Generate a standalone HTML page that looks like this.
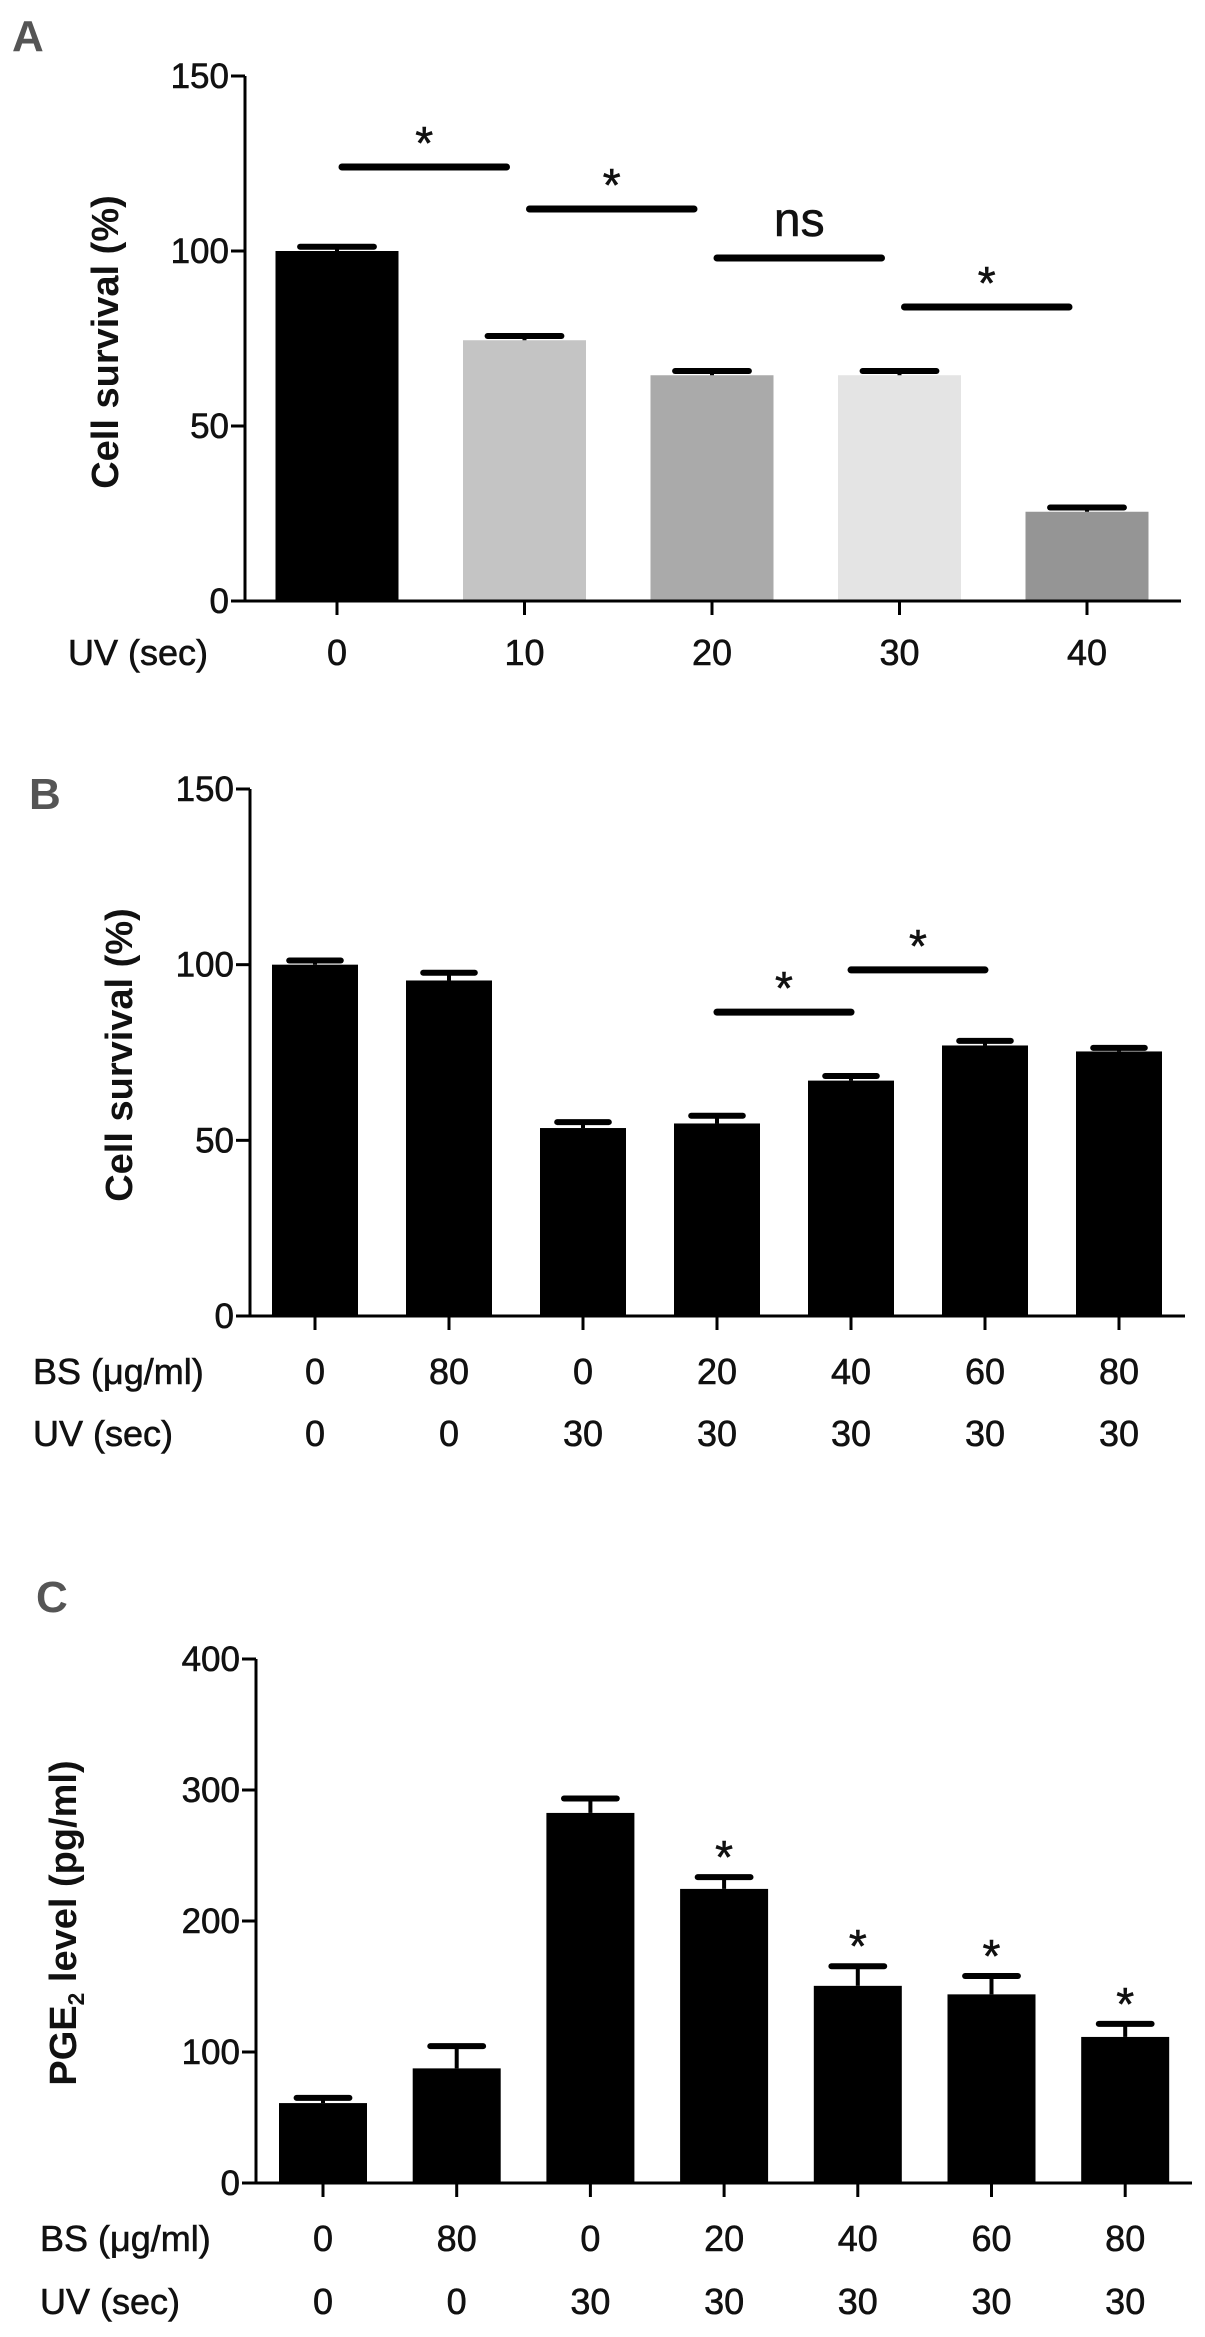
<!DOCTYPE html>
<html><head><meta charset="utf-8"><style>
html,body{margin:0;padding:0;background:#fff;}
svg{display:block;font-family:"Liberation Sans",Arial,sans-serif;}
</style></head><body>
<svg id="fig" width="1205" height="2337" viewBox="0 0 1205 2337" xmlns="http://www.w3.org/2000/svg"></svg>
<script>
// ---- Panel A data ----
const aCategories = ["0","10","20","30","40"];
const aValues = [100, 74.5, 64.5, 64.5, 25.5];
const aErrors = [1.2, 1.2, 1.2, 1.2, 1.2];
const aTicks = [0, 50, 100, 150];
const aColors = ["#000000","#c4c4c4","#aaaaaa","#e4e4e4","#959595"];
const aSigFrom = [0, 1, 2, 3];
const aSigLevel = [124, 112, 98, 84];
const aSigText = ["*","*","ns","*"];
// ---- Panel B data ----
const bBS = ["0","80","0","20","40","60","80"];
const bUV = ["0","0","30","30","30","30","30"];
const bValues = [100, 95.5, 53.5, 54.8, 67, 77, 75.3];
const bErrors = [1.2, 2.2, 1.7, 2.2, 1.3, 1.3, 1.0];
const bTicks = [0, 50, 100, 150];
const bSigFrom = [3, 4];
const bSigLevel = [86.5, 98.5];
// ---- Panel C data ----
const cBS = ["0","80","0","20","40","60","80"];
const cUV = ["0","0","30","30","30","30","30"];
const cValues = [61, 87.5, 282.5, 224.5, 150.5, 144, 111.5];
const cErrors = [4, 17, 11, 9, 15, 14, 10];
const cTicks = [0, 100, 200, 300, 400];
const cStars = [false, false, false, true, true, true, true];

const NS = "http://www.w3.org/2000/svg";
const svg = document.getElementById("fig");
function mk(tag, attrs, parent){
  const e = document.createElementNS(NS, tag);
  for (const k in attrs) e.setAttribute(k, attrs[k]);
  (parent||svg).appendChild(e);
  return e;
}
function txt(s, x, y, size, anchor, parent, weight, fill){
  const t = mk("text", {x:x, y:y, "font-size":size, "text-anchor":anchor||"middle", fill:fill||"#111", "font-weight":weight||"normal", stroke: fill||"#111", "stroke-width": weight==="bold"?0:0.6}, parent);
  t.textContent = s;
  return t;
}

function panel(cfg){
  const g = mk("g", {});
  
  
  const yScale = v => cfg.y0 - (v - 0) / cfg.yMax * (cfg.y0 - cfg.yTop);
  const n = cfg.values.length;
  const xScale = i => cfg.firstC + i * cfg.step;
  cfg.values.forEach((v, i) => {
    const cx = xScale(i);
    const r = mk("rect", {x: cx - cfg.bw/2, y: yScale(v), width: cfg.bw, height: cfg.y0 - yScale(v), fill: cfg.colors ? cfg.colors[i] : "#000"}, g);
    
    
    const top = yScale(v + cfg.errors[i]);
    const el = mk("line", {x1: cx, x2: cx, y1: yScale(v), y2: top, stroke: "#000", "stroke-width": 4}, g);
    
    
    const cap = mk("line", {x1: cx - cfg.bw*0.3, x2: cx + cfg.bw*0.3, y1: top, y2: top, stroke: "#000", "stroke-width": 6, "stroke-linecap": "round"}, g);
    
    
    if (cfg.stars && cfg.stars[i]) {
      const s = txt("*", cx, top - 4, 46, "middle", g);
      
      
    }
  });
  const ya = mk("line", {x1: cfg.ax, x2: cfg.ax, y1: cfg.yTop, y2: cfg.y0 + 1.5, stroke: "#000", "stroke-width": 3}, g);
  
  
  const xa = mk("line", {x1: cfg.ax - 14, x2: cfg.xEnd, y1: cfg.y0, y2: cfg.y0, stroke: "#000", "stroke-width": 3}, g);
  
  
  cfg.ticks.forEach(t => {
    const y = yScale(t);
    mk("line", {x1: cfg.ax - 14, x2: cfg.ax, y1: y, y2: y, stroke: "#000", "stroke-width": 3}, g);
    const l = txt(String(t), cfg.ax - 16, y + 12, 35, "end", g);
    
    
  });
  for (let i = 0; i < n; i++) {
    mk("line", {x1: xScale(i), x2: xScale(i), y1: cfg.y0, y2: cfg.y0 + 14, stroke: "#000", "stroke-width": 3}, g);
  }
  cfg.rows.forEach(row => {
    const rl = txt(row.label, row.lx, row.y, 36, "start", g);
    
    
    row.vals.forEach((s, i) => {
      const t = txt(s, xScale(i), row.y, 36, "middle", g);
      
      
    });
  });
  if (cfg.sigFrom) cfg.sigFrom.forEach((f, k) => {
    const y = yScale(cfg.sigLevel[k]);
    const x1 = xScale(f) + cfg.sigInset, x2 = xScale(f + 1) + cfg.sigInset2;
    const l = mk("line", {x1: x1, x2: x2, y1: y, y2: y, stroke: "#000", "stroke-width": 7, "stroke-linecap": "round"}, g);
    
    
    const s = cfg.sigText ? cfg.sigText[k] : "*";
    const tx = txt(s, (x1 + x2) / 2, s === "ns" ? y - 22 : y - 8, s === "ns" ? 48 : 46, "middle", g);
    
    
  });
  const yl = mk("text", {x: 0, y: 0, "font-size": cfg.ylSize, "font-weight": "bold", "text-anchor": "middle", fill: "#111", transform: "translate(" + cfg.ylx + "," + cfg.yly + ") rotate(-90)"}, g);
  
  
  if (cfg.pge) {
    yl.appendChild(document.createTextNode("PGE"));
    const sub = document.createElementNS(NS, "tspan");
    sub.setAttribute("font-size", cfg.ylSize * 0.6);
    sub.setAttribute("dy", 8);
    sub.textContent = "2";
    yl.appendChild(sub);
    const rest = document.createElementNS(NS, "tspan");
    rest.setAttribute("dy", -8);
    rest.textContent = " level (pg/ml)";
    yl.appendChild(rest);
  } else {
    yl.textContent = cfg.ylabel;
  }
  const pl = txt(cfg.letter, cfg.lx, cfg.ly, 44, "start", g, "bold", "#555");
  
  
}

panel({name: "panel-a", letter: "A", lx: 12, ly: 51, values: aValues, errors: aErrors, colors: aColors,
  ticks: aTicks, yMax: 150, y0: 601, yTop: 76, ax: 245, xEnd: 1181, firstC: 337, step: 187.5, bw: 123,
  rows: [{label: "UV (sec)", lx: 68, y: 665, vals: aCategories}],
  sigFrom: aSigFrom, sigLevel: aSigLevel, sigText: aSigText, sigInset: 5, sigInset2: -18,
  ylabel: "Cell survival (%)", ylSize: 38, ylx: 118, yly: 342});

panel({name: "panel-b", letter: "B", lx: 29, ly: 809, values: bValues, errors: bErrors,
  ticks: bTicks, yMax: 150, y0: 1316, yTop: 789, ax: 250, xEnd: 1185, firstC: 315, step: 134, bw: 86,
  rows: [{label: "BS (\u03bcg/ml)", lx: 33, y: 1384, vals: bBS}, {label: "UV (sec)", lx: 33, y: 1446, vals: bUV}],
  sigFrom: bSigFrom, sigLevel: bSigLevel, sigInset: 0, sigInset2: 0,
  ylabel: "Cell survival (%)", ylSize: 38, ylx: 132, yly: 1055});

panel({name: "panel-c", letter: "C", lx: 36, ly: 1612, values: cValues, errors: cErrors, stars: cStars,
  ticks: cTicks, yMax: 400, y0: 2183, yTop: 1659, ax: 256, xEnd: 1192, firstC: 323, step: 133.7, bw: 88,
  rows: [{label: "BS (\u03bcg/ml)", lx: 40, y: 2251, vals: cBS}, {label: "UV (sec)", lx: 40, y: 2314, vals: cUV}],
  pge: true, ylSize: 38, ylx: 76, yly: 1923});
</script>
</body></html>
